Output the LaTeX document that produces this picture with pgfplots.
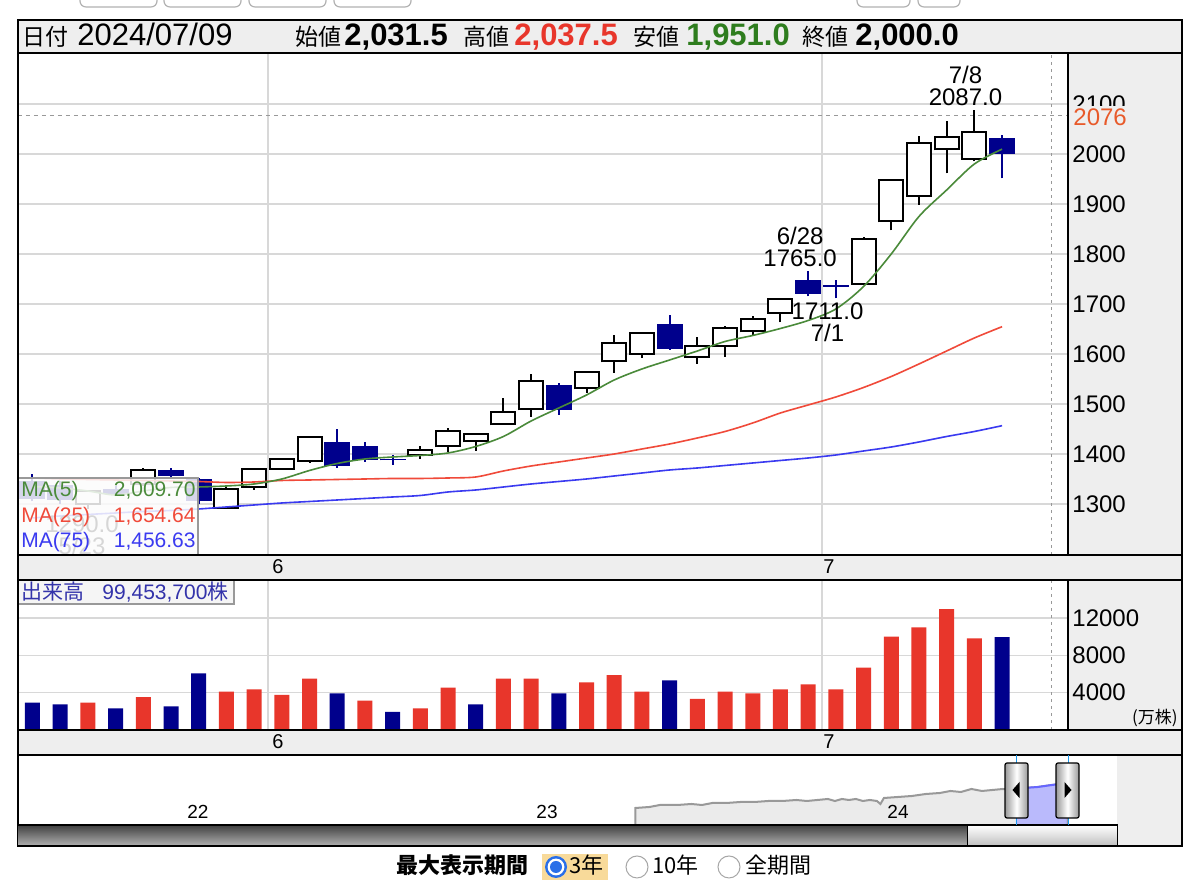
\documentclass[border=0pt]{standalone}
\usepackage{pgfplots}
\pgfplotsset{compat=1.18}
\usepackage{pgfplotstable}
\usepackage{fontspec}
\setmainfont{Liberation Sans}
\newfontfamily\jp{Noto Sans CJK JP}
\definecolor{navy}{HTML}{00008C}
\definecolor{vred}{HTML}{E8362B}
\definecolor{ma5}{HTML}{4A8A3A}
\definecolor{ma25}{HTML}{F04A3A}
\definecolor{ma75}{HTML}{3A3AF0}
\definecolor{gridc}{HTML}{D8D8D8}
\definecolor{panel}{HTML}{EEEEEE}
\definecolor{lastc}{HTML}{E85A2A}
\definecolor{hgreen}{HTML}{2E7D1E}
\definecolor{hred}{HTML}{E8362B}
\definecolor{vlegend}{HTML}{3333AA}
\definecolor{navline}{HTML}{999999}
\definecolor{navfill}{HTML}{EBEBEB}
\definecolor{highl}{HTML}{F8DA9A}
\definecolor{rbl}{HTML}{2A6FE8}
\newcommand\fs[1]{\fontsize{#1}{#1}\selectfont}
\pgfplotsset{candle/.style={only marks, mark=*, mark options={opacity=0},
  error bars/.cd, y dir=plus, y explicit, error mark=none}}

% candles: index, open, high, low, close
\pgfplotstableread{
i O H L C
3 1300 1328 1290 1325
5 1340 1372 1335 1368
8 1292 1336 1291 1330
9 1334 1372 1328 1370
10 1370 1392 1368 1390
11 1386 1436 1382 1433
15 1397 1415 1390 1408
16 1415 1452 1404 1445
17 1425 1442 1406 1440
18 1459 1511 1458 1483
19 1489 1559 1474 1545
21 1531 1565 1522 1563
22 1585 1638 1562 1622
23 1600 1644 1592 1642
25 1593 1634 1580 1615
26 1615 1656 1594 1651
27 1645 1676 1638 1669
28 1682 1711 1663 1709
31 1740 1834 1738 1829
32 1865 1948 1847 1947
33 1916 2035 1898 2021
34 2009 2065 1961 2033
35 1990 2087 1985 2043
}\upcandles
\pgfplotstableread{
i O H L C
1 1345 1360 1305 1310
2 1338 1345 1300 1308
4 1330 1335 1315 1320
6 1368 1372 1350 1355
7 1350 1352 1300 1306
12 1423 1450 1372 1376
13 1416 1424 1384 1388
14 1390 1398 1378 1387
20 1538 1542 1478 1488
24 1660 1678 1608 1610
29 1748 1765 1715 1720
30 1736 1748 1711 1734
36 2031.5 2037.5 1951 2000
}\downcandles
\pgfplotstableread{
i m5 m25 m75
1 1335 1352 1272
2 1332 1350 1276
3 1326 1349 1279
4 1318 1348 1282
5 1326 1347 1285
6 1333 1346 1287
7 1334 1345 1290
8 1336 1343 1294
9 1340 1344 1298
10 1350 1347 1302
11 1367 1348 1305
12 1381 1349 1308
13 1390 1350 1311
14 1394 1351 1314
15 1397 1351 1317
16 1402 1352 1324
17 1415 1354 1328
18 1435 1366 1334
19 1466 1376 1340
20 1492 1384 1345
21 1518 1392 1350
22 1548 1400 1356
23 1570 1410 1362
24 1588 1420 1368
25 1606 1432 1372
26 1625 1445 1377
27 1637 1462 1382
28 1651 1482 1387
29 1667 1498 1392
30 1690 1514 1398
31 1735 1533 1406
32 1800 1555 1414
33 1875 1580 1424
34 1928 1606 1435
35 1980 1632 1445
36 2009.7 1654.6 1456.6
}\ma
\pgfplotstableread{
i v
3 2920
5 3530
8 4100
9 4360
10 3750
11 5500
13 3140
15 2320
16 4530
18 5500
19 5500
21 5110
22 5890
23 4100
25 3320
26 4100
27 3930
28 4360
29 4890
30 4360
31 6680
32 9990
33 11000
34 12960
35 9820
}\volred
\pgfplotstableread{
i v
1 2920
2 2750
4 2320
6 2540
7 6070
12 3930
14 1930
17 2750
20 3930
24 5320
36 9945
}\volblue

\begin{document}
\begin{tikzpicture}
\useasboundingbox (0,0) rectangle (600pt,440.5pt);
% ---------- backgrounds ----------
\begin{scope}[x=0.5pt,y=-0.5pt,shift={(0pt,440.5pt)}]
 \fill[white] (0,0) rectangle (1200,881);
 \foreach \a/\b in {80/157,164/241,249/326,334/411,857/910,918/960}
   \draw[gray!60, fill=white, rounded corners=3pt, line width=0.6pt] (\a,-15) rectangle (\b,7);
 \fill[panel] (18,20) rectangle (1182,846);
 \fill[white] (18,53) rectangle (1068,555);
 \fill[white] (18,580) rectangle (1068,730);
 \fill[white] (18,755) rectangle (1117,825);
\end{scope}

% ---------- price panel ----------
\begin{axis}[at={(9pt,163pt)}, anchor=south west, scale only axis,
  width=525pt, height=251pt,
  xmin=0.477, xmax=38.38, ymin=1198, ymax=2202,
  axis line style={draw=none}, major tick length=0pt,
  xtick={9.5,29.5}, xticklabels={}, xmajorgrids,
  ytick={1300,1400,...,2100}, ymajorgrids,
  grid style={color=gridc, line width=0.8pt},
  yticklabel pos=right,
  yticklabel style={font=\fs{12}, inner sep=2pt},
  scaled y ticks=false,
  /pgf/number format/1000 sep={},
  /pgf/number format/assume math mode=true]
 % dashed last price line and dotted future line
 \addplot[gray!80, line width=0.5pt, dash pattern=on 2pt off 2pt] coordinates {(0.477,2076) (38.38,2076)};
 \addplot[gray!80, line width=0.6pt, dash pattern=on 1.5pt off 2pt] coordinates {(37.77,1198) (37.77,2202)};
 % wicks
 \addplot[candle, error bar style={line width=1pt, black}]
   table[x=i, y=L, y error expr=\thisrow{H}-\thisrow{L}] {\upcandles};
 \addplot[candle, error bar style={line width=1pt, navy}]
   table[x=i, y=L, y error expr=\thisrow{H}-\thisrow{L}] {\downcandles};
 % bodies (up: hollow, down: filled navy)
 \addplot[candle, error bar style={line width=13pt, black}]
   table[x=i, y expr={min(\thisrow{O},\thisrow{C})-2}, y error expr={abs(\thisrow{C}-\thisrow{O})+4}] {\upcandles};
 \addplot[candle, error bar style={line width=11pt, white}]
   table[x=i, y expr={min(\thisrow{O},\thisrow{C})+2}, y error expr={max(abs(\thisrow{C}-\thisrow{O})-4,0)}] {\upcandles};
 \addplot[candle, error bar style={line width=13pt, navy}]
   table[x=i, y expr={min(\thisrow{O},\thisrow{C})}, y error expr={max(abs(\thisrow{C}-\thisrow{O}),3)}] {\downcandles};
 % moving averages
 \addplot[ma75, line width=0.8pt, smooth, mark=none] table[x=i, y=m75] {\ma};
 \addplot[ma25, line width=0.8pt, smooth, mark=none] table[x=i, y=m25] {\ma};
 \addplot[ma5, line width=0.8pt, smooth, mark=none] table[x=i, y=m5] {\ma};
 % high / low annotations
 \node[anchor=south, align=center, font=\fs{12}, inner sep=2pt] at (axis cs:34.68,2087) {7/8\\[-1pt]2087.0};
 \node[anchor=south, align=center, font=\fs{12}, inner sep=2pt] at (axis cs:28.71,1765) {6/28\\[-1pt]1765.0};
 \node[anchor=north, align=center, font=\fs{12}, inner sep=2pt] at (axis cs:29.7,1711) {1711.0\\[-1pt]7/1};
 \node[anchor=north, align=center, font=\fs{12}, inner sep=3pt] at (axis cs:2.79,1290) {1290.0\\[-1pt]5/23};
\end{axis}

% ---------- volume panel ----------
\begin{axis}[at={(9pt,75.5pt)}, anchor=south west, scale only axis,
  width=525pt, height=75pt,
  xmin=0.477, xmax=38.38, ymin=0, ymax=16071,
  axis line style={draw=none}, major tick length=0pt,
  xtick={9.5,29.5}, xticklabels={}, xmajorgrids,
  ytick={4000,8000,12000}, ymajorgrids,
  grid style={color=gridc, line width=0.8pt},
  yticklabel pos=right,
  yticklabel style={font=\fs{12}, inner sep=2pt},
  scaled y ticks=false,
  /pgf/number format/1000 sep={},
  /pgf/number format/assume math mode=true]
 \addplot[gray!80, line width=0.6pt, dash pattern=on 1.5pt off 2pt] coordinates {(37.77,0) (37.77,16071)};
 \addplot[ybar, bar width=7.5pt, bar shift=0pt, fill=vred, draw=none] table[x=i, y=v] {\volred};
 \addplot[ybar, bar width=7.5pt, bar shift=0pt, fill=navy, draw=none] table[x=i, y=v] {\volblue};
\end{axis}

% ---------- navigator ----------
\begin{axis}[at={(9pt,28pt)}, anchor=south west, scale only axis,
  width=549.5pt, height=35pt,
  xmin=21.486, xmax=24.626, ymin=0, ymax=70, hide axis]
 \addplot[fill=navfill, draw=navline, line width=1pt] coordinates {
 (23.25,0) (23.25,17) (23.29,18) (23.32,20) (23.37,20) (23.41,21) (23.44,20) (23.47,22)
 (23.51,22) (23.55,23) (23.59,23) (23.63,24) (23.67,24) (23.71,25) (23.74,24) (23.77,25)
 (23.80,26) (23.82,24) (23.84,26) (23.86,25) (23.88,26) (23.90,24) (23.92,25) (23.94,24)
 (23.95,21) (23.96,27) (24.00,28) (24.04,29) (24.08,31) (24.12,32) (24.15,34) (24.18,33)
 (24.21,36) (24.24,34) (24.27,35) (24.30,36) (24.33,35) (24.36,37) (24.40,38) (24.44,40)
 (24.483,42) (24.483,0)};
 \addplot[fill=blue!30, draw=none, fill opacity=0.85] coordinates {
 (24.337,0) (24.337,35.5) (24.36,37) (24.40,38) (24.44,40) (24.483,42) (24.483,0)};
 \addplot[blue!60, line width=1pt] coordinates {(24.337,35.5) (24.36,37) (24.40,38) (24.44,40) (24.483,42)};
\end{axis}

% ---------- overlays ----------
\begin{scope}[x=0.5pt,y=-0.5pt,shift={(0pt,440.5pt)}]
 % last price label
 \node[anchor=west, fill=panel, inner sep=1pt, text=lastc, font=\fs{12}] at (1071,117) {2076};
 % MA legend
 \path[fill=white!80!panel, fill opacity=0.85, draw=gray!80, line width=0.6pt] (18,478) rectangle (198,555);
 \node[anchor=west, text=ma5, font=\fs{10.5}, inner sep=0] at (21,491) {MA(5)};
 \node[anchor=east, text=ma5, font=\fs{10.5}, inner sep=0] at (196,491) {2,009.70};
 \node[anchor=west, text=ma25, font=\fs{10.5}, inner sep=0] at (21,517) {MA(25)};
 \node[anchor=east, text=ma25, font=\fs{10.5}, inner sep=0] at (196,517) {1,654.64};
 \node[anchor=west, text=ma75, font=\fs{10.5}, inner sep=0] at (21,542) {MA(75)};
 \node[anchor=east, text=ma75, font=\fs{10.5}, inner sep=0] at (196,542) {1,456.63};
 % volume legend
 \path[fill=panel!60!white, draw=gray!80, line width=0.6pt] (18,580) rectangle (234,604);
 \node[anchor=west, text=vlegend, font=\fs{10.5}, inner sep=0] at (21,592) {{\jp 出来高}\hspace{9pt}99,453,700{\jp 株}};
 % frame lines
 \draw[line width=1pt] (18,20) rectangle (1182,846);
 \draw[line width=1pt] (18,53)--(1182,53) (18,555)--(1182,555) (18,580)--(1182,580)
   (18,730)--(1182,730) (18,755)--(1182,755);
 \draw[line width=1pt] (1068,53)--(1068,555) (1068,580)--(1068,730);
 % date labels
 \node[font=\fs{10}] at (278,567) {6};
 \node[font=\fs{10}] at (829,567) {7};
 \node[font=\fs{10}] at (278,742) {6};
 \node[font=\fs{10}] at (829,742) {7};
 \node[anchor=east, font=\jp\fs{8.5}, inner sep=0] at (1178,718) {(万株)};
 % navigator labels
 \node[font=\fs{9.5}] at (198,812) {22};
 \node[font=\fs{9.5}] at (547,812) {23};
 \node[font=\fs{9.5}] at (898,812) {24};
 % scrollbar
 \shade[top color=black!75, bottom color=black!30] (18,825) rectangle (967,846);
 \shadedraw[top color=white, bottom color=black!25, draw=black, line width=0.5pt] (967,825) rectangle (1117,846);
 \draw[line width=1pt] (18,825)--(1117,825);
 \draw[line width=1pt] (18,846)--(1182,846);
 % handles
 \draw[color=rbl!70!cyan, line width=0.5pt] (1016,755)--(1016,825) (1068,755)--(1068,825);
 \shadedraw[left color=black!40, right color=black!40, middle color=white, draw=black, line width=0.6pt, rounded corners=1pt] (1005,763) rectangle (1028,818);
 \shadedraw[left color=black!40, right color=black!40, middle color=white, draw=black, line width=0.6pt, rounded corners=1pt] (1056,763) rectangle (1079,818);
 \fill (1019.5,782) -- (1019.5,798) -- (1012.5,790) -- cycle;
 \fill (1064.5,782) -- (1064.5,798) -- (1071.5,790) -- cycle;
 % header
 \node[anchor=base west, inner sep=0, font=\jp\fs{11.5}] at (22,46) {日付};
 \node[anchor=base west, inner sep=0, font=\fs{15.5}] at (77,46) {2024/07/09};
 \node[anchor=base west, inner sep=0, font=\jp\fs{11.5}] at (295,46) {始値};
 \node[anchor=base west, inner sep=0, font=\bfseries\fs{15.5}] at (344,46) {2,031.5};
 \node[anchor=base west, inner sep=0, font=\jp\fs{11.5}] at (463,46) {高値};
 \node[anchor=base west, inner sep=0, font=\bfseries\fs{15.5}, text=hred] at (514,46) {2,037.5};
 \node[anchor=base west, inner sep=0, font=\jp\fs{11.5}] at (633,46) {安値};
 \node[anchor=base west, inner sep=0, font=\bfseries\fs{15.5}, text=hgreen] at (686,46) {1,951.0};
 \node[anchor=base west, inner sep=0, font=\jp\fs{11.5}] at (802,46) {終値};
 \node[anchor=base west, inner sep=0, font=\bfseries\fs{15.5}] at (855,46) {2,000.0};
 % bottom row
 \fill[highl] (542,854) rectangle (608,880);
 \node[anchor=base west, inner sep=0, font=\jp\bfseries\fs{11}] at (396,874) {最大表示期間};
 \fill[rbl] (556,867) circle (5.5pt);
 \fill[white] (556,867) circle (4.2pt);
 \fill[rbl] (556,867) circle (3pt);
 \node[anchor=base west, inner sep=0, font=\jp\fs{11}] at (569,874) {3年};
 \draw[gray!70, fill=white, line width=0.5pt] (637,867) circle (5.5pt);
 \node[anchor=base west, inner sep=0, font=\jp\fs{11}] at (652,874) {10年};
 \draw[gray!70, fill=white, line width=0.5pt] (729,867) circle (5.5pt);
 \node[anchor=base west, inner sep=0, font=\jp\fs{11}] at (745,874) {全期間};
\end{scope}
\end{tikzpicture}
\end{document}
